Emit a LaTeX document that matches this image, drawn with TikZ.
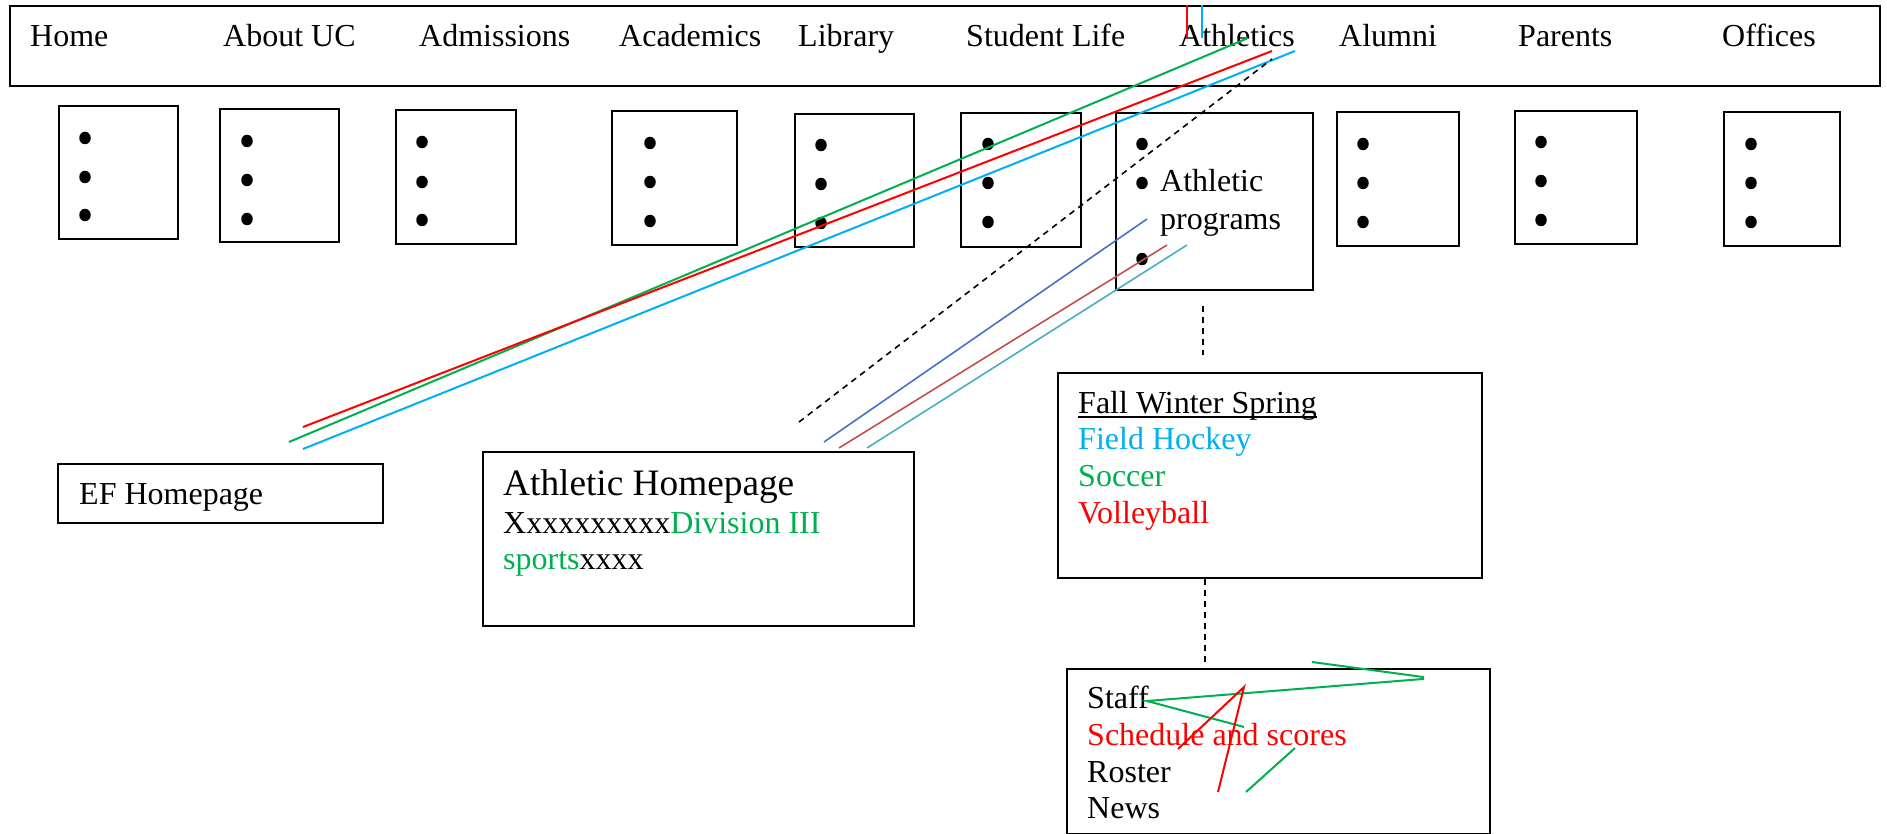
\documentclass[tikz,border=0pt]{standalone}
\usepackage{fontspec}
\usetikzlibrary{shapes.geometric}
\setmainfont{Liberation Serif}
\definecolor{lgreen}{HTML}{00B050}
\definecolor{lblue}{HTML}{00B0F0}
\definecolor{lred}{HTML}{FF0000}
\definecolor{sblue}{HTML}{4472C4}
\definecolor{dred}{HTML}{C0504D}
\definecolor{tealb}{HTML}{4BACC6}
\begin{document}
\begin{tikzpicture}[x=1pt,y=-1pt,
  box/.style={draw, line width=2pt, anchor=north west, inner sep=0pt},
  txt/.style={anchor=base west, inner sep=0pt, font=\fontsize{32}{36}\selectfont},
  bigtxt/.style={anchor=base west, inner sep=0pt, font=\fontsize{37.3}{42}\selectfont},
  bullet/.style={ellipse, fill=black, inner sep=0pt, minimum width=11.5pt, minimum height=12.5pt},
  link/.style={line width=2pt},
  thinlink/.style={line width=1.6pt},
  dashlink/.style={line width=1.6pt, dash pattern=on 6pt off 5pt}]
\useasboundingbox (0,0) rectangle (1887,834);
\fill[white] (0,0) rectangle (1887,834);

% top navigation bar
\node[box, minimum width=1870pt, minimum height=80pt] (bar) at (9,5) {};
\foreach \nm/\x/\t in {mhome/30/Home, mabout/223/About UC, madm/419/Admissions, macad/619/Academics, mlib/798/Library, mstud/966/Student Life, math/1179/Athletics, malum/1339/Alumni, mpar/1518/Parents, moff/1722/Offices}
  \node[txt] (\nm) at (\x,47) {\t};

% drop-down boxes
\foreach \nm/\x/\y/\w/\h in {home/58/105/119/133, about/219/108/119/133, adm/395/109/120/134, acad/611/110/125/134, lib/794/113/119/133, stud/960/112/120/134, ath/1115/112/197/177, alum/1336/111/122/134, par/1514/110/122/133, off/1723/111/116/134}
  \node[box, minimum width=\w pt, minimum height=\h pt] (\nm) at (\x,\y) {};

% bullets
\foreach \nm/\x/\a/\b/\c in {home/85/138/177/215, about/247/141/180/219, adm/422/142/182/220, acad/650/143/182/221, lib/821/145/184/223, stud/988/144/183/222, ath/1142/144/183/259, alum/1363/144/183/222, par/1541/142/181/220, off/1751/144/183/222}
{
  \node[bullet] (\nm-b1) at (\x,\a) {};
  \node[bullet] (\nm-b2) at (\x,\b) {};
  \node[bullet] (\nm-b3) at (\x,\c) {};
}
\node[txt] (athp1) at (1160,192) {Athletic};
\node[txt] (athp2) at (1160,230) {programs};

% EF Homepage
\node[box, minimum width=325pt, minimum height=59pt] (ef) at (57,463) {};
\node[txt] (eftxt) at (79,504) {EF Homepage};

% Athletic Homepage
\node[box, minimum width=431pt, minimum height=174pt] (ah) at (482,451) {};
\node[bigtxt] (ah1) at (503,495) {Athletic Homepage};
\node[txt] (ah2) at (503,533) {Xxxxxxxxxx\textcolor{lgreen}{Division III}};
\node[txt] (ah3) at (503,569) {\textcolor{lgreen}{sports}xxxx};

% Fall Winter Spring
\node[box, minimum width=424pt, minimum height=205pt] (fws) at (1057,372) {};
\node[txt] (fws1) at (1078,413) {Fall Winter Spring};
\draw[line width=2pt] ([yshift=-4pt]fws1.base west) -- ([yshift=-4pt]fws1.base east);
\node[txt, text=lblue] (fws2) at (1078,449) {Field Hockey};
\node[txt, text=lgreen] (fws3) at (1078,486) {Soccer};
\node[txt, text=lred] (fws4) at (1078,523) {Volleyball};

% Staff box
\node[box, minimum width=423pt, minimum height=165pt] (st) at (1066,668) {};
\node[txt] (st1) at (1087,708) {Staff};
\node[txt, text=lred] (st2) at (1087,745) {Schedule and scores};
\node[txt] (st3) at (1087,782) {Roster};
\node[txt] (st4) at (1087,818) {News};

% endpoints
\coordinate (g1) at (289,442);  \coordinate (g2) at (1248,38);
\coordinate (r1) at (303,427);  \coordinate (r2) at (1272,51);
\coordinate (c1) at (303,449);  \coordinate (c2) at (1295,51);
\coordinate (rv1) at (1187,5);  \coordinate (rv2) at (1187,38);
\coordinate (cv1) at (1202,5);  \coordinate (cv2) at (1202,38);
\coordinate (d1) at (799,422);  \coordinate (d2) at (1272,59);
\coordinate (sb1) at (824,442); \coordinate (sb2) at (1147,219);
\coordinate (dr1) at (839,448); \coordinate (dr2) at (1167,245);
\coordinate (tb1) at (867,448); \coordinate (tb2) at (1187,245);
\coordinate (v1a) at (1203,306); \coordinate (v1b) at (1203,355);
\coordinate (v2a) at (1205,579); \coordinate (v2b) at (1205,662);
\coordinate (p1) at (1312,662); \coordinate (p2) at (1423,677);
\coordinate (p3) at (1423,679); \coordinate (p4) at (1147,701);
\coordinate (p5) at (1244,727);
\coordinate (q1) at (1295,748); \coordinate (q2) at (1246,792);
\coordinate (s1) at (1178,749); \coordinate (s2) at (1244,687);
\coordinate (s3) at (1218,792);

% connectors
\draw[link, lgreen] (g1) -- (g2);
\draw[link, lred] (r1) -- (r2);
\draw[link, lblue] (c1) -- (c2);
\draw[link, lred] (rv1) -- (rv2);
\draw[link, lblue] (cv1) -- (cv2);
\draw[dashlink] (d1) -- (d2);
\draw[thinlink, sblue] (sb1) -- (sb2);
\draw[thinlink, dred] (dr1) -- (dr2);
\draw[thinlink, tealb] (tb1) -- (tb2);
\draw[dashlink] (v1a) -- (v1b);
\draw[dashlink] (v2a) -- (v2b);
\draw[link, lgreen] (p1) -- (p2) -- (p3) -- (p4) -- (p5);
\draw[link, lgreen] (q1) -- (q2);
\draw[link, lred] (s1) -- (s2) -- (s3);
\end{tikzpicture}
\end{document}
